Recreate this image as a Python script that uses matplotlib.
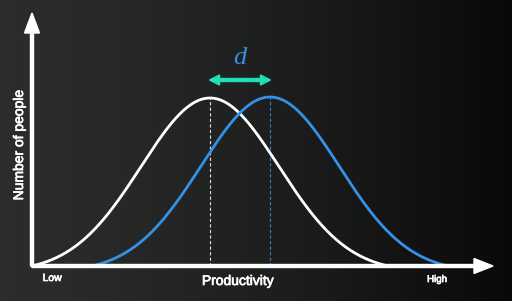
import matplotlib
matplotlib.use("Agg")
import matplotlib.pyplot as plt
import matplotlib.patheffects as pe
import numpy as np
from matplotlib.colors import LinearSegmentedColormap

# bell curves (units ~ pixels from the axis origin)
names = ["before", "after"]
means = [178, 238]
peaks = [168, 169]
spread = 69          # standard deviation
half_span = 178      # curve reaches the baseline this far from the mean
colors = ["white", "#3491e6"]

x_label = "Productivity"
y_label = "Number of people"
low_label, high_label = "Low", "High"
shift_label = "d"

BG_LEFT, BG_RIGHT = "#2b2d2c", "#090909"
GREEN = "#1ae2b2"
BLUE = colors[1]

fig = plt.figure(figsize=(5.12, 3.01), dpi=100)
ax = fig.add_axes([0, 0, 1, 1])
x0, x1, y0, y1 = -32, 480, -35, 266
ax.set_xlim(x0, x1)
ax.set_ylim(y0, y1)
ax.axis("off")

# dark chalkboard background
gx = np.linspace(0, 1, 256)
grad = np.tile(gx ** 1.4, (2, 1))
cmap = LinearSegmentedColormap.from_list("bg", [BG_LEFT, BG_RIGHT])
ax.imshow(grad, extent=(x0, x1, y0, y1), aspect="auto", cmap=cmap, zorder=0)


def bell(xs, mu, peak):
    g = np.exp(-(xs - mu) ** 2 / (2 * spread ** 2))
    c = np.exp(-half_span ** 2 / (2 * spread ** 2))
    return peak * (g - c) / (1 - c)


for mu, peak, col in zip(means, peaks, colors):
    xs = np.linspace(mu - half_span, mu + half_span, 300)
    ax.plot(xs, bell(xs, mu, peak), color=col, lw=2.0, solid_capstyle="round", zorder=3)
    ax.plot([mu, mu], [0, peak], color=col, lw=0.8, ls=(0, (3, 2)), alpha=0.85, zorder=2)

# axes with arrow heads
ax.arrow(0, 0, 0, 253, width=3, head_width=15, head_length=20,
         length_includes_head=True, color="white", zorder=4)
ax.arrow(0, 0, 461, 0, width=3, head_width=15, head_length=19,
         length_includes_head=True, color="white", zorder=4)

# shift arrow between the two means
mid = (means[0] + means[1]) / 2
half = (means[1] - means[0]) / 2 + 0.5
for sign in (-1, 1):
    ax.arrow(mid, 186, sign * half, 0, width=3, head_width=10, head_length=10,
             length_includes_head=True, color=GREEN, zorder=4)
ax.text(mid, 208, shift_label, color=BLUE, fontsize=19, family="Liberation Serif",
        style="italic", ha="center", va="center")

# slightly heavier strokes, like the soft rendering of the original
heavy = [pe.withStroke(linewidth=0.5, foreground="white")]
ax.text(-13, 121, y_label, color="white", fontsize=10, family="Liberation Sans",
        rotation=90, ha="center", va="center", path_effects=heavy)
ax.text(206, -15, x_label, color="white", fontsize=10, family="Liberation Sans",
        ha="center", va="center", path_effects=heavy)
ax.text(20, -12, low_label, color="white", fontsize=7.5, family="Liberation Sans",
        ha="center", va="center", path_effects=heavy)
ax.text(405, -13, high_label, color="white", fontsize=7, family="Liberation Sans",
        ha="center", va="center", path_effects=heavy)

fig.savefig("out.png", dpi=100)
plt.close(fig)
